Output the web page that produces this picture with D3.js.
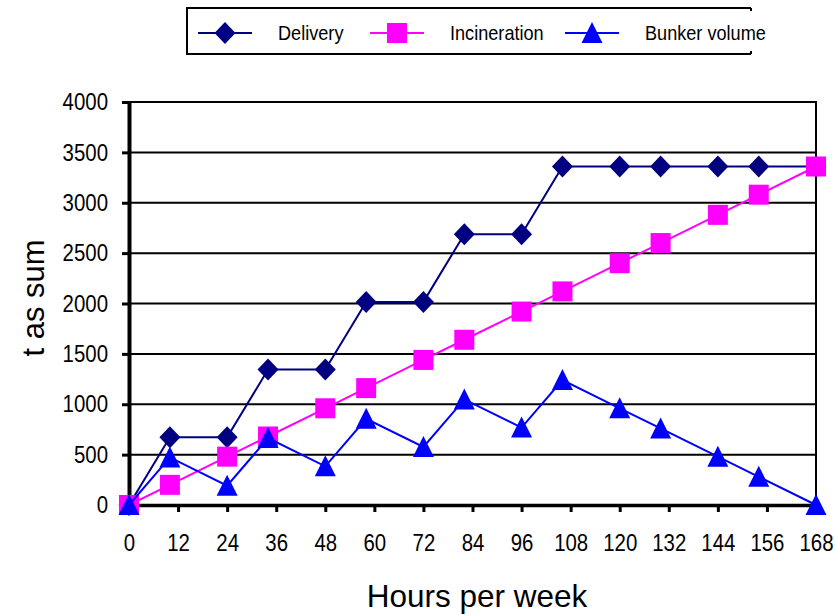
<!DOCTYPE html>
<html>
<head>
<meta charset="utf-8">
<script src="https://cdn.jsdelivr.net/npm/d3@7"></script>
<style>
  body { margin: 0; background: #fff; }
  text { font-family: "Liberation Sans", Arial, Helvetica, sans-serif; fill: #000; }
</style>
</head>
<body>
<svg id="chart" width="835" height="615"></svg>
<script>
// Hours into the week at which each value is recorded
const hours = [0, 10, 24, 34, 48, 58, 72, 82, 96, 106, 120, 130, 144, 154, 168];

// Cumulative tonnes
const delivery     = [0, 672, 672, 1344, 1344, 2016, 2016, 2688, 2688, 3360, 3360, 3360, 3360, 3360, 3360];
const incineration = [0, 200, 480, 680, 960, 1160, 1440, 1640, 1920, 2120, 2400, 2600, 2880, 3080, 3360];
const bunker       = [0, 472, 192, 664, 384, 856, 576, 1048, 768, 1240, 960, 760, 480, 280, 0];

// Axis ticks
const xTicks = [0, 12, 24, 36, 48, 60, 72, 84, 96, 108, 120, 132, 144, 156, 168];
const yTicks = [0, 500, 1000, 1500, 2000, 2500, 3000, 3500, 4000];

const seriesNames   = ["Delivery", "Incineration", "Bunker volume"];
const seriesColors  = ["#000080", "#FF00FF", "#0000FF"];
const seriesSymbols = ["diamond", "square", "triangle"];

const svg = d3.select("#chart");

const plot = { left: 129, right: 816, top: 102, bottom: 505 };
const x = d3.scaleLinear().domain([0, 168]).range([plot.left, plot.right]);
const y = d3.scaleLinear().domain([0, 4000]).range([plot.bottom, plot.top]);

// Narrow, tall tick-label lettering
const tickFont = 24, tickSqueeze = 0.85;

// Horizontal gridlines
svg.append("g")
  .selectAll("line")
  .data(yTicks.filter(d => d > 0))
  .join("line")
  .attr("x1", plot.left).attr("x2", plot.right)
  .attr("y1", d => y(d)).attr("y2", d => y(d))
  .attr("stroke", "#000").attr("stroke-width", 2);

// Right frame edge
svg.append("line")
  .attr("x1", plot.right).attr("x2", plot.right)
  .attr("y1", plot.top - 1).attr("y2", plot.bottom)
  .attr("stroke", "#000").attr("stroke-width", 2);

// Bottom axis
const xAxis = svg.append("g")
  .attr("transform", `translate(0,${plot.bottom})`)
  .call(d3.axisBottom(x).tickValues(xTicks).tickFormat(d3.format("d")).tickSize(7).tickSizeOuter(0));
xAxis.select(".domain").attr("stroke", "#000").attr("stroke-width", 3.5);
xAxis.selectAll(".tick line").attr("stroke", "#000").attr("stroke-width", 3);
xAxis.selectAll(".tick text")
  .attr("font-size", tickFont)
  .attr("font-family", "Liberation Sans, Arial, sans-serif")
  .attr("y", 0)
  .attr("transform", `translate(0,29) scale(${tickSqueeze},1)`);

// Left axis
const yAxis = svg.append("g")
  .attr("transform", `translate(${plot.left},0)`)
  .call(d3.axisLeft(y).tickValues(yTicks).tickFormat(d3.format("d")).tickSize(7).tickSizeOuter(0));
yAxis.select(".domain").attr("stroke", "#000").attr("stroke-width", 4);
yAxis.selectAll(".tick line").attr("stroke", "#000").attr("stroke-width", 3);
yAxis.selectAll(".tick text")
  .attr("font-size", tickFont)
  .attr("font-family", "Liberation Sans, Arial, sans-serif")
  .attr("x", 0)
  .attr("transform", `translate(-21,0) scale(${tickSqueeze},1)`);

// Axis titles
svg.append("text")
  .attr("x", 477).attr("y", 607)
  .attr("text-anchor", "middle")
  .attr("font-size", 31.5)
  .text("Hours per week");

svg.append("text")
  .attr("transform", "translate(44,298) rotate(-90)")
  .attr("text-anchor", "middle")
  .attr("font-size", 31)
  .text("t as sum");

// Marker shapes
function markerPath(kind) {
  if (kind === "diamond") return "M0,-11L10.5,0L0,11L-10.5,0Z";
  if (kind === "square") return "M-10,-10H10V10H-10Z";
  return "M0,-11L10.5,10L-10.5,10Z";
}

const seriesValues = [delivery, incineration, bunker];
const line = d3.line().x(d => x(d[0])).y(d => y(d[1]));

seriesValues.forEach((vals, i) => {
  const pts = hours.map((h, j) => [h, vals[j]]);
  const g = svg.append("g");
  g.append("path")
    .attr("d", line(pts))
    .attr("fill", "none")
    .attr("stroke", seriesColors[i])
    .attr("stroke-width", 2);
  g.selectAll("path.mk")
    .data(pts)
    .join("path")
    .attr("class", "mk")
    .attr("transform", d => `translate(${x(d[0])},${y(d[1])})`)
    .attr("d", markerPath(seriesSymbols[i]))
    .attr("fill", seriesColors[i]);
});

// Legend
const legend = svg.append("g");
legend.append("path")
  .attr("d", "M751,8H187V54H751M751,8v3M751,54v-3")
  .attr("fill", "none").attr("stroke", "#000").attr("stroke-width", 2);

const legendX = [198, 370, 565];
seriesNames.forEach((name, i) => {
  const lx = legendX[i];
  const ly = 33;
  legend.append("line")
    .attr("x1", lx).attr("x2", lx + 54)
    .attr("y1", ly).attr("y2", ly)
    .attr("stroke", seriesColors[i]).attr("stroke-width", 2);
  legend.append("path")
    .attr("transform", `translate(${lx + 27},${ly})`)
    .attr("d", markerPath(seriesSymbols[i]))
    .attr("fill", seriesColors[i]);
  legend.append("text")
    .attr("transform", `translate(${lx + 80},${ly + 7}) scale(0.93,1)`)
    .attr("font-size", 19.5)
    .text(name);
});
</script>
</body>
</html>
